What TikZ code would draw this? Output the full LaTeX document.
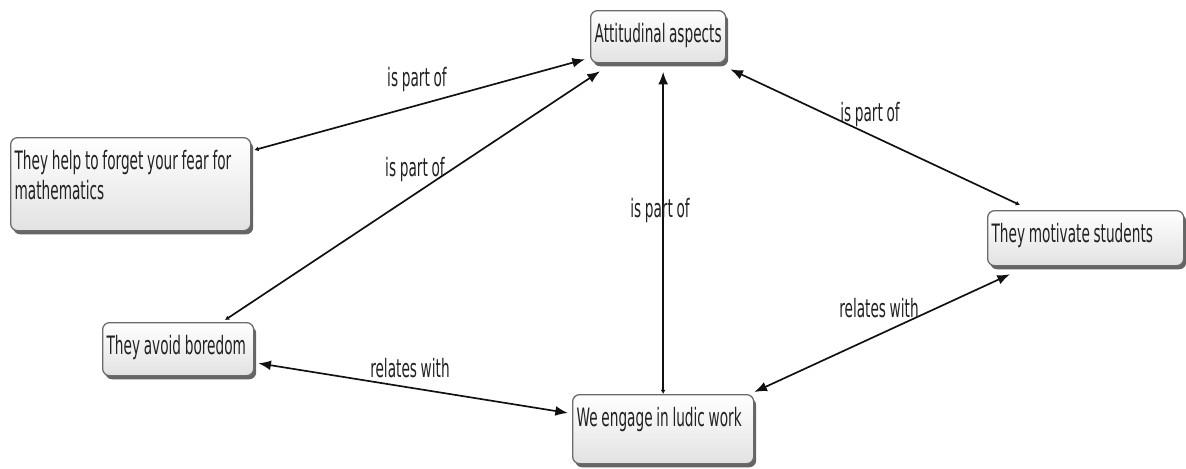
\documentclass[tikz,border=0pt]{standalone}
\usepackage{fontspec}
\newfontfamily\mapfont{DejaVu Sans}[FakeStretch=0.54, WordSpace=0.85]
\usetikzlibrary{arrows.meta, calc, shadows}
\definecolor{boxline}{HTML}{6B6B6B}
\definecolor{boxfill}{HTML}{E2E2E2}
\definecolor{shadowcol}{HTML}{4A4A4A}
\definecolor{linecol}{HTML}{111111}
\definecolor{txtcol}{HTML}{222222}
\tikzset{
    headtip/.tip={Latex[length=9pt, width=7pt]},
    foottip/.tip={Latex[length=3pt, width=3.5pt]},
}

\begin{document}
\begin{tikzpicture}[
    x=0.025cm, y=-0.025cm,
    every node/.style={font=\mapfont\fontsize{18}{21.3}\selectfont, text=txtcol},
    concept/.style={rectangle, rounded corners=5pt, draw=boxline, line width=0.9pt,
                    top color=white, bottom color=boxfill, anchor=north west, align=flush left,
                    inner xsep=0.1cm, inner ysep=0pt, text height=0.8cm,
                    drop shadow={shadow xshift=1.8pt, shadow yshift=-2.6pt,
                                 fill=shadowcol, opacity=0.85}},
    link/.style={linecol, line width=1.2pt},
    lab/.style={inner sep=1pt},
]
\useasboundingbox (0,0) rectangle (1186,468);

% ---------------------------------------------------------------- the concepts
\node[concept, text width=3.175cm, text depth=0.5cm] (att) at (590,10) {Attitudinal aspects};
\node[concept, text width=5.8cm, text depth=1.525cm] (help) at (10,137)
    {They help to forget your fear for\\mathematics};
\node[concept, text width=3.575cm, text depth=0.525cm] (bore) at (102,322) {They avoid boredom};
\node[concept, text width=4.325cm, text depth=0.925cm] (ludic) at (572,394) {We engage in ludic work};
\node[concept, text width=4.7cm, text depth=0.575cm] (motiv) at (987,210) {They motivate students};

% ---------------------------------------------------------------- is part of
\draw[link, foottip-headtip] ([shift={(3,13)}]help.north east) -- ([shift={(-5,-4)}]att.south west);
\draw[link, foottip-headtip] ([shift={(123,-2)}]bore.north west) -- ([shift={(10,8)}]att.south west);
\draw[link, foottip-headtip] (ludic.north) -- ([yshift=-6pt]ludic.north |- att.south);
\draw[link, foottip-headtip] ([shift={(33,-5)}]motiv.north west) -- ([shift={(4,6)}]att.south east);

% ---------------------------------------------------------------- relates with
\draw[link, headtip-headtip] ([shift={(4,-13)}]bore.south east) -- ([shift={(-4,19)}]ludic.north west);
\draw[link, headtip-headtip] ([shift={(0,-2)}]ludic.north east) -- ([shift={(23,8)}]motiv.south west);

% ---------------------------------------------------------------- link labels
\node[lab] (l1) at (417,80) {is part of};
\node[lab] (l2) at (415,170) {is part of};
\node[lab] (l3) at (660,211) {is part of};
\node[lab] (l4) at (870,115) {is part of};
\node[lab] (l5) at (410,368) {relates with};
\node[lab] (l6) at (879,308) {relates with};
\end{tikzpicture}
\end{document}
